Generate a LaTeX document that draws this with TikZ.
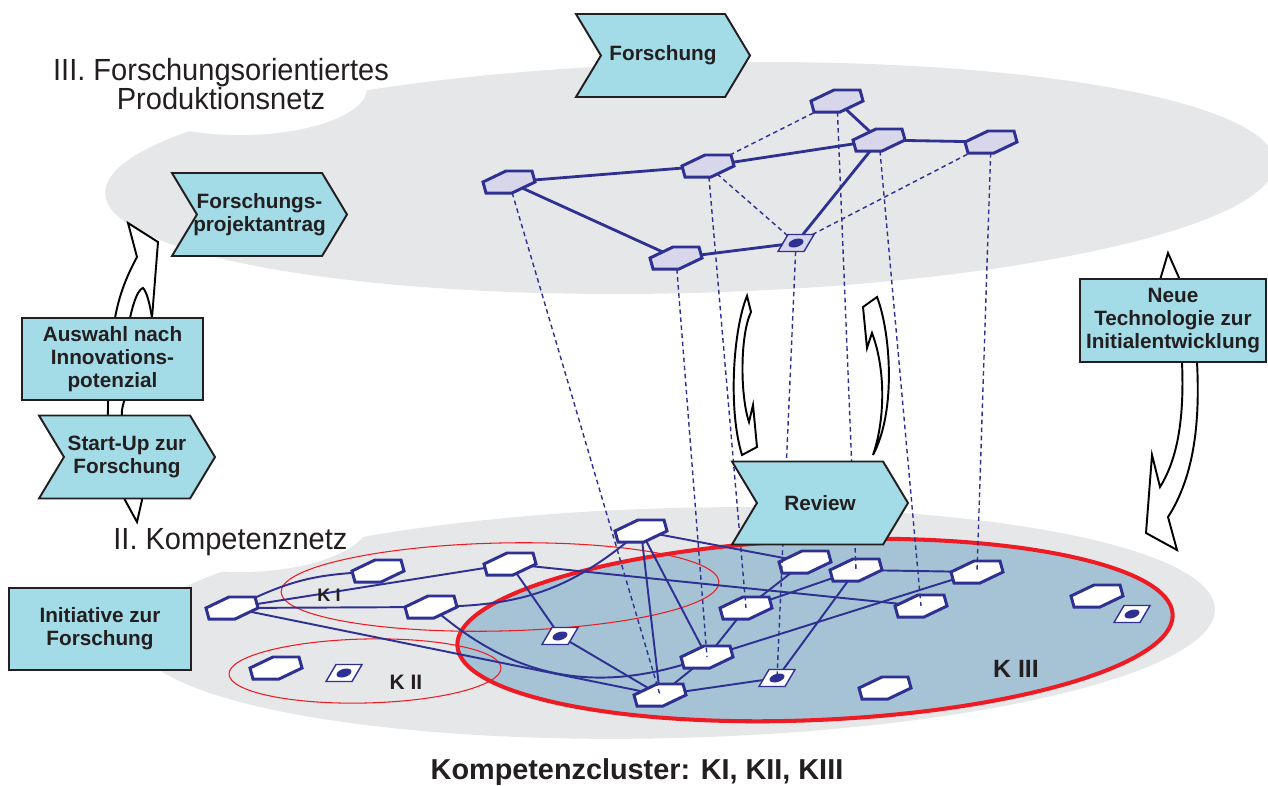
\documentclass[tikz,border=0pt]{standalone}
\usepackage{fontspec}
\setmainfont{Liberation Sans}
\newfontfamily\layerfont[FakeStretch=0.95]{Liberation Sans}
\usetikzlibrary{calc, shapes.geometric, shapes.symbols}

\definecolor{netblue}{RGB}{46,49,146}
\definecolor{netlav}{RGB}{216,214,235}
\definecolor{boxcyan}{RGB}{163,219,230}
\definecolor{layergrey}{RGB}{230,231,232}
\definecolor{clusterblue}{RGB}{166,195,213}
\definecolor{clusterred}{RGB}{237,28,36}
\definecolor{inkdark}{RGB}{35,31,32}

\newcommand\pxu{0.02cm}
\newcommand\boxfont{\fontsize{11.8}{13.2}\selectfont\bfseries}

\begin{document}
\begin{tikzpicture}[x=0.02cm, y=-0.02cm,
    hexnode/.style={regular polygon, regular polygon sides=6, minimum size=52*\pxu,
        inner sep=0pt, outer sep=0pt, draw=netblue, line width=1.7pt, fill=white,
        yscale=0.489, xslant=0.444},
    tophex/.style={hexnode, fill=netlav},
    dianode/.style={rectangle, minimum width=26*\pxu, minimum height=17*\pxu,
        inner sep=0pt, outer sep=0pt, draw=netblue, line width=0.8pt, fill=white,
        xslant=0.588,
        path picture={\fill[netblue] (path picture bounding box.center) ellipse [x radius=0.14cm, y radius=0.09cm];}},
    topdia/.style={dianode, fill=netlav},
    topedge/.style={netblue, line width=1.6pt},
    botedge/.style={netblue, line width=1.1pt},
    dropline/.style={netblue, line width=0.8pt, dash pattern=on 2.6pt off 2pt},
    chevron/.style={signal, signal from=west, signal to=east, signal pointer angle=118,
        draw=inkdark, line width=1.1pt, fill=boxcyan, minimum height=83*\pxu,
        inner sep=0pt, align=center, font=\boxfont, text=inkdark},
    boxrect/.style={rectangle, draw=inkdark, line width=1.1pt, fill=boxcyan,
        inner sep=0pt, align=center, font=\boxfont, text=inkdark},
    flowarrow/.style={draw=black, fill=white, line width=1.1pt, line join=miter},
    layertext/.style={font=\layerfont\fontsize{17.4}{17}\selectfont, text=inkdark, inner sep=0pt},
    klabel/.style={text=inkdark, inner sep=0pt}
]
\useasboundingbox (0,0) rectangle (1268,785);

% the two network layers
\fill[layergrey, rotate around={1.5:(690,178)}] (690,178) ellipse [x radius=585, y radius=115];
\fill[white] (240,88) ellipse [x radius=127, y radius=47];
\fill[layergrey, rotate around={1.5:(675,623)}] (675,623) ellipse [x radius=540, y radius=115];
\fill[white] (240,520) ellipse [x radius=130, y radius=52];

% cluster ellipses
\draw[clusterred, line width=2.3pt, fill=clusterblue, rotate around={2.5:(815,630)}] (815,630) ellipse [x radius=358, y radius=90];
\draw[clusterred, line width=0.6pt, rotate around={1.3:(500,587)}] (500,587) ellipse [x radius=219, y radius=44];
\draw[clusterred, line width=0.6pt, rotate around={1.3:(365,671)}] (365,671) ellipse [x radius=136, y radius=32];

% curved arrows
\draw[flowarrow] (137,522) -- (125,500) .. controls (112,470) and (106,440) .. (108,410)
    .. controls (108,370) and (110,340) .. (115,318) .. controls (120,290) and (130,270) .. (137,257)
    -- (128,223) -- (158,242) -- (152,318) .. controls (148,360) and (126,385) .. (122,410)
    .. controls (120,440) and (135,480) .. (142,500) -- cycle;
\draw[flowarrow, fill=none] (130,318) .. controls (134,300) and (138,290) .. (143,288)
    .. controls (147,292) and (150,305) .. (152,318);
\draw[flowarrow] (1168,253) -- (1180,280) -- (1197,362) .. controls (1200,420) and (1195,475) .. (1168,517)
    -- (1177,550) -- (1146,533) -- (1152,455) -- (1160,487)
    .. controls (1180,455) and (1184,410) .. (1182,362) -- (1160,280) -- cycle;
\draw[flowarrow] (747,296) .. controls (733,330) and (728,410) .. (742,455) -- (757,447) -- (753,405)
    -- (749,422) .. controls (740,395) and (740,335) .. (751,312) -- cycle;
\draw[flowarrow] (877,297) .. controls (890,330) and (897,410) .. (873,455)
    .. controls (885,420) and (886,370) .. (872,333) -- (867,348) -- (863,307) -- cycle;

% II. Kompetenznetz
\node[hexnode] (B1) at (232,608) {};
\node[hexnode] (B2) at (378,571) {};
\node[hexnode] (B3) at (510,564) {};
\node[hexnode] (B4) at (431,607) {};
\node[dianode] (B5) at (560,636) {};
\node[hexnode] (B6) at (276,668) {};
\node[dianode] (B7) at (344,673) {};
\node[hexnode] (B8) at (641,531) {};
\node[hexnode] (B9) at (805,562) {};
\node[hexnode] (B10) at (856,570) {};
\node[hexnode] (B11) at (977,572) {};
\node[hexnode] (B12) at (746,608) {};
\node[hexnode] (B13) at (921,606) {};
\node[hexnode] (B14) at (707,657) {};
\node[hexnode] (B15) at (660,695) {};
\node[dianode] (B16) at (777,678) {};
\node[hexnode] (B17) at (885,688) {};
\node[hexnode] (B18) at (1097,596) {};
\node[dianode] (B19) at (1132,614) {};

\draw[botedge] (B1) to[bend left=10] (B2);
\draw[botedge] (B1) -- (B3);
\draw[botedge] (B1) -- (B4);
\draw[botedge] (B1) -- (B15);
\draw[botedge] (B4) to[bend right=18] (B8);
\draw[botedge] (B4) to[bend right=28] (B14);
\draw[botedge] (B3) -- (B5);
\draw[botedge] (B5) -- (B15);
\draw[botedge] (B3) -- (B13);
\draw[botedge] (B8) -- (B9);
\draw[botedge] (B8) -- (B15);
\draw[botedge] (B8) -- (B14);
\draw[botedge] (B9) -- (B12);
\draw[botedge] (B10) -- (B12);
\draw[botedge] (B10) -- (B11);
\draw[botedge] (B10) -- (B16);
\draw[botedge] (B12) -- (B14);
\draw[botedge] (B14) -- (B11);
\draw[botedge] (B14) -- (B15);
\draw[botedge] (B15) -- (B16);

% III. Produktionsnetz
\node[tophex] (T1) at (837,101) {};
\node[tophex] (T2) at (879,140) {};
\node[tophex] (T3) at (991,142) {};
\node[tophex] (T4) at (708,166) {};
\node[tophex] (T5) at (509,182) {};
\node[tophex] (T6) at (676,258) {};
\node[topdia] (T7) at (796,243) {};

\draw[topedge] (T1) -- (T2);
\draw[topedge] (T4) -- (T2);
\draw[topedge] (T2) -- (T3);
\draw[topedge] (T5) -- (T4);
\draw[topedge] (T5) -- (T6);
\draw[topedge] (T6) -- (T7);
\draw[topedge] (T7) -- (T2);
\draw[dropline] (T4) -- (T1);
\draw[dropline] (T4) -- (T7);
\draw[dropline] (T7) -- (T3);

% projections between the layers
\foreach \t/\b in {T5/B15, T6/B14, T4/B12, T7/B16, T1/B10, T2/B13, T3/B11}
    \draw[dropline] (\t) -- (\b.center);

% process steps
\node[chevron, minimum width=174*\pxu] (forschung) at (663,55.5) {Forschung};
\node[chevron, minimum width=175*\pxu, inner xsep=-5*\pxu] (antrag) at (259.5,214.5) {Forschungs-\\projektantrag};
\node[chevron, minimum width=176*\pxu] (startup) at (127,457) {Start-Up zur\\Forschung};
\node[chevron, minimum width=176*\pxu] (review) at (820,503) {Review};
\node[boxrect, minimum width=181*\pxu, minimum height=82*\pxu] (auswahl) at (112.5,359) {Auswahl nach\\Innovations-\\potenzial};
\node[boxrect, minimum width=182*\pxu, minimum height=82*\pxu] (initiative) at (100,629) {Initiative zur\\Forschung};
\node[boxrect, minimum width=186*\pxu, minimum height=83*\pxu] (neuetech) at (1173,320.5) {Neue\\Technologie zur\\Initialentwicklung};

% labels
\node[layertext, anchor=north, align=center] (layerIII) at (221,57.6) {III. Forschungsorientiertes\\Produktionsnetz};
\node[layertext, anchor=base west] (layerII) at (113,549) {II. Kompetenznetz};
\node[klabel, font=\fontsize{10.3}{12}\selectfont\bfseries] (kI) at (329,595) {K I};
\node[klabel, font=\fontsize{11.9}{14}\selectfont\bfseries] (kII) at (406,682) {K II};
\node[klabel, font=\fontsize{14.2}{16}\selectfont\bfseries] (kIII) at (1016,669) {K III};
\node[text=inkdark, font=\fontsize{16.4}{19}\selectfont\bfseries, anchor=base, inner sep=0pt] (caption) at (637,779) {Kompetenzcluster: KI, KII, KIII};
\end{tikzpicture}
\end{document}
